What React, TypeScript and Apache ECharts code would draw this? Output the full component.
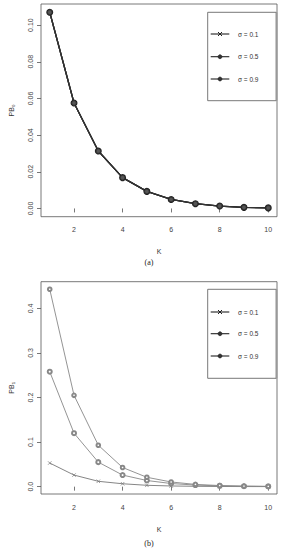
import React, { useEffect, useRef } from "react";
import * as echarts from "echarts";

const kValues = [1, 2, 3, 4, 5, 6, 7, 8, 9, 10];
const xTicks = [2, 4, 6, 8, 10];
const yTicksA = [0, 0.02, 0.04, 0.06, 0.08, 0.1];
const yTicksB = [0, 0.1, 0.2, 0.3, 0.4];
const sigmaLabels = ["σ = 0.1", "σ = 0.5", "σ = 0.9"];

// Panel (a): PB0 — the three sigma curves coincide
const pb0Sigma01 = [0.107, 0.0575, 0.0313, 0.0168, 0.0093, 0.0049, 0.0026, 0.0013, 0.0006, 0.0003];
const pb0Sigma05 = [0.107, 0.0575, 0.0313, 0.0168, 0.0093, 0.0049, 0.0026, 0.0013, 0.0006, 0.0003];
const pb0Sigma09 = [0.107, 0.0575, 0.0313, 0.0168, 0.0093, 0.0049, 0.0026, 0.0013, 0.0006, 0.0003];

// Panel (b): PB1
const pb1Sigma01 = [0.053, 0.026, 0.012, 0.0065, 0.003, 0.0015, 0.0008, 0.0004, 0.0002, 0.0001];
const pb1Sigma05 = [0.258, 0.12, 0.055, 0.026, 0.0138, 0.007, 0.0035, 0.0018, 0.0009, 0.0004];
const pb1Sigma09 = [0.443, 0.205, 0.093, 0.043, 0.021, 0.0105, 0.005, 0.0025, 0.0012, 0.0006];

const CROSS = "path://M0 0L10 10M10 0L0 10";
const FONT = "Liberation Sans";

export default function App() {
  const ref = useRef<HTMLDivElement>(null);
  useEffect(() => {
    document.body.style.margin = "0";
    const chart = echarts.init(ref.current!, undefined, { renderer: "svg" });

    const pair = (arr: number[]) => kValues.map((k, i) => [k, arr[i]]);

    const xAxisBase = (gridIndex: number, labelMargin: number, nameGap: number) => ({
      type: "value",
      gridIndex,
      min: 0.64,
      max: 10.36,
      name: "K",
      nameLocation: "middle",
      nameGap,
      nameTextStyle: { fontFamily: FONT, fontSize: 7, color: "#333" },
      axisLine: { show: false },
      splitLine: { show: false },
      axisTick: { show: true, length: 4, customValues: xTicks, lineStyle: { color: "#555", width: 0.8 } },
      axisLabel: { customValues: xTicks, margin: labelMargin, fontFamily: FONT, fontSize: 7, color: "#444" },
    });

    const yAxisBase = (gridIndex: number, min: number, max: number, ticks: number[], name: string, fmt: (v: number) => string) => ({
      type: "value",
      gridIndex,
      min,
      max,
      name,
      nameLocation: "middle",
      nameGap: 26,
      nameRotate: 90,
      nameTextStyle: { fontFamily: FONT, fontSize: 7, color: "#333" },
      axisLine: { show: false },
      splitLine: { show: false },
      axisTick: { show: true, length: 4, customValues: ticks, lineStyle: { color: "#555", width: 0.8 } },
      axisLabel: { customValues: ticks, rotate: 90, margin: 7, fontFamily: FONT, fontSize: 7, color: "#444", formatter: fmt },
    });

    const mkSeries = (xi: number, data: number[], symbol: string, size: number, color: string, width: number, fill: string, bw: number) => ({
      type: "line",
      xAxisIndex: xi,
      yAxisIndex: xi,
      data: pair(data),
      symbol,
      symbolSize: size,
      showSymbol: true,
      lineStyle: { color, width },
      itemStyle: { color: fill, borderColor: color, borderWidth: bw },
      z: 3,
    });

    const legend = (top: number, bottom: number, rows: number[]) => {
      const els: any[] = [
        { type: "rect", shape: { x: 207.7, y: top, width: 68.5, height: bottom - top }, style: { fill: "#fff", stroke: "#555", lineWidth: 0.8 }, z: 10 },
        { type: "line", shape: { x1: 276.6, y1: top, x2: 276.6, y2: bottom }, style: { stroke: "#999", lineWidth: 1.6 }, z: 11 },
      ];
      rows.forEach((y, i) => {
        els.push({ type: "line", shape: { x1: 210.7, y1: y, x2: 229.3, y2: y }, style: { stroke: "#222", lineWidth: 1.1 }, z: 11 });
        if (i === 0) {
          els.push({ type: "line", shape: { x1: 218, y1: y - 2, x2: 222, y2: y + 2 }, style: { stroke: "#222", lineWidth: 1 }, z: 11 });
          els.push({ type: "line", shape: { x1: 222, y1: y - 2, x2: 218, y2: y + 2 }, style: { stroke: "#222", lineWidth: 1 }, z: 11 });
        } else {
          els.push({ type: "circle", shape: { cx: 220, cy: y, r: 2 }, style: { fill: "#333", stroke: "#222", lineWidth: 0.6 }, z: 11 });
        }
        els.push({ type: "text", x: 238, y, style: { text: sigmaLabels[i], fontFamily: FONT, fontSize: 6.5, fill: "#333", verticalAlign: "middle", align: "left" }, z: 11 });
      });
      return els;
    };

    chart.setOption({
      animation: false,
      backgroundColor: "#fff",
      grid: [
        { left: 39, top: 4, width: 238, height: 212.7, show: true, borderColor: "#555", borderWidth: 0.8, containLabel: false },
        { left: 39, top: 281.7, width: 238, height: 212.3, show: true, borderColor: "#555", borderWidth: 0.8, containLabel: false },
      ],
      xAxis: [xAxisBase(0, 9, 31), xAxisBase(1, 10, 31.5)],
      yAxis: [
        yAxisBase(0, -0.0045, 0.1115, yTicksA, "PB₀", (v: number) => v.toFixed(2)),
        yAxisBase(1, -0.0165, 0.46, yTicksB, "PB₁", (v: number) => v.toFixed(1)),
      ],
      series: [
        mkSeries(0, pb0Sigma01, CROSS, 4, "#222", 1.3, "transparent", 0.9),
        mkSeries(0, pb0Sigma05, "emptyCircle", 5, "#222", 1.3, "#222", 0.9),
        mkSeries(0, pb0Sigma09, "circle", 4.5, "#333", 1.3, "#555", 0.9),
        mkSeries(1, pb1Sigma01, CROSS, 3.5, "#777", 0.9, "transparent", 0.7),
        mkSeries(1, pb1Sigma05, "emptyCircle", 4, "#888", 0.9, "#888", 0.6),
        mkSeries(1, pb1Sigma09, "emptyCircle", 3.6, "#888", 0.9, "#888", 0.6),
      ],
      graphic: [
        ...legend(12.3, 100.7, [34, 56.7, 79]),
        ...legend(289.3, 378.3, [312, 333.7, 356]),
        { type: "text", x: 149, y: 262, style: { text: "(a)", fontFamily: "Liberation Serif", fontSize: 8, fill: "#222", align: "center", verticalAlign: "middle" } },
        { type: "text", x: 149, y: 543.3, style: { text: "(b)", fontFamily: "Liberation Serif", fontSize: 8, fill: "#222", align: "center", verticalAlign: "middle" } },
      ],
    });
    return () => chart.dispose();
  }, []);
  return <div ref={ref} style={{ width: 282, height: 550 }} />;
}
